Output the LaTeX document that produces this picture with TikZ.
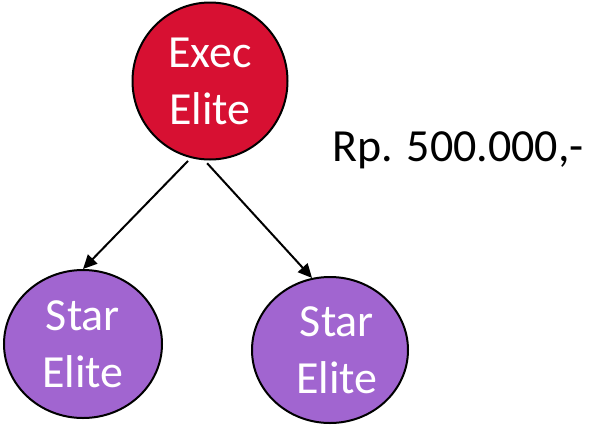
\documentclass[tikz,border=0pt]{standalone}
\usepackage{fontspec}
\setmainfont{Carlito}
\usetikzlibrary{shapes.geometric,arrows.meta}
\definecolor{execred}{RGB}{215,16,50}
\definecolor{starpurple}{RGB}{161,101,208}
\tikzset{
  bubble/.style={ellipse, draw=black, line width=2pt, inner sep=0pt, text=white,
    align=center, font=\fontsize{46}{57}\selectfont},
  link/.style={draw=black, line width=2pt, -{Triangle[length=14pt,width=13pt]}}
}
\begin{document}
\begin{tikzpicture}[x=1pt,y=-1pt]
\useasboundingbox (0,0) rectangle (589,424);
\node[bubble, fill=execred, minimum width=155pt, minimum height=157pt] (exec) at (210,81) {Exec\\Elite};
\node[bubble, fill=starpurple, minimum width=158pt, minimum height=148pt] (starL) at (83,344) {Star\\Elite};
\node[bubble, fill=starpurple, minimum width=156pt, minimum height=146pt] (starR) at (330,350) {\hspace*{14pt}Star\\\hspace*{14pt}Elite};
\node[anchor=west, font=\fontsize{46}{52}\selectfont, inner sep=0pt] (price) at (332,150) {Rp. 500.000,-};
\draw[link, shorten <=4pt] (exec.256) -- (starL.north);
\draw[link, shorten <=4pt] (exec.266) -- (starR.104);
\end{tikzpicture}
\end{document}
